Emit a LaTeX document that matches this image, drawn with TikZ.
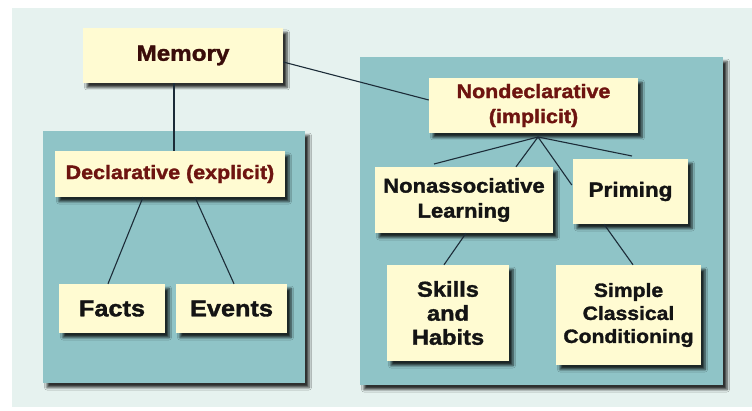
\documentclass[tikz,border=0pt]{standalone}
\usepackage{fontspec}
\newfontfamily\lbl{Liberation Sans}[FakeStretch=1.1, BoldFeatures={FakeBold=1.6}]
\usetikzlibrary{calc,shadows.blur}
\definecolor{bgc}{HTML}{E6F2EF}
\definecolor{panelc}{HTML}{8FC4C7}
\definecolor{boxc}{HTML}{FFFBD2}
\definecolor{memc}{HTML}{3A0C0A}
\definecolor{decc}{HTML}{6E1410}
\definecolor{txtc}{HTML}{141414}
\definecolor{linec}{HTML}{1C2C38}
\tikzset{
  shad/.style={blur shadow={shadow xshift=4pt, shadow yshift=-4.5pt, shadow blur steps=5, shadow blur radius=2.5pt, shadow opacity=80}},
  panel/.style={fill=panelc, draw=none, shad},
  box/.style={fill=boxc, draw=none, shad, inner sep=0pt, align=center, text=txtc, font=\lbl\bfseries},
  conn/.style={draw=linec, line width=1.1pt},
}
\begin{document}
\begin{tikzpicture}[x=1pt,y=-1pt]
\useasboundingbox (0,0) rectangle (752,411);
\fill[white] (0,0) rectangle (752,411);
\fill[bgc] (12,8) rectangle (752,407);
% panels
\path[panel] (43,131) rectangle (305,383);
\path[panel] (360,57) rectangle (723,385);
% boxes
\node[box, minimum width=200pt, minimum height=55pt, text=memc, font=\lbl\bfseries\fontsize{22}{26}\selectfont] (mem) at (183,55.5) {Memory};
\node[box, minimum width=230pt, minimum height=46pt, text=decc, font=\lbl\bfseries\fontsize{19.5}{24}\selectfont] (decl) at (170,174) {Declarative (explicit)};
\node[box, minimum width=106pt, minimum height=49pt, font=\lbl\bfseries\fontsize{23}{26}\selectfont] (facts) at (112,308.5) {Facts};
\node[box, minimum width=111pt, minimum height=49pt, font=\lbl\bfseries\fontsize{23}{26}\selectfont] (events) at (231.5,308.5) {Events};
\node[box, minimum width=209pt, minimum height=55pt, text=decc, font=\lbl\bfseries\fontsize{19.5}{25}\selectfont] (nondecl) at (533.5,105.5) {Nondeclarative\\(implicit)};
\node[box, minimum width=178pt, minimum height=66pt, font=\lbl\bfseries\fontsize{20}{25}\selectfont] (nonassoc) at (464,200) {Nonassociative\\Learning};
\node[box, minimum width=115pt, minimum height=65pt, font=\lbl\bfseries\fontsize{20.5}{25}\selectfont] (priming) at (630.5,191.5) {Priming};
\node[box, minimum width=122pt, minimum height=96pt, font=\lbl\bfseries\fontsize{21.5}{24}\selectfont] (skills) at (448,313) {Skills\\and\\Habits};
\node[box, minimum width=145pt, minimum height=100pt, font=\lbl\bfseries\fontsize{19.2}{23}\selectfont] (simple) at (628.5,315) {Simple\\Classical\\Conditioning};
% connector points
\coordinate (fan) at (538,137);
\coordinate (endl) at (434,164);
\coordinate (endr) at (632,156);
% connectors
\draw[conn] ($(mem.south)+(-9,0)$) -- ($(decl.north)+(4,0)$);
\draw[conn] ($(mem.east)+(0,6.5)$) -- ($(nondecl.west)+(0,-5.5)$);
\draw[conn] ($(decl.south)+(-27,0)$) -- ($(facts.north)+(-4,0)$);
\draw[conn] ($(decl.south)+(25,0)$) -- ($(events.north)+(2.5,0)$);
\draw[conn] (fan) -- (endl);
\draw[conn] (fan) -- ($(nonassoc.north)+(52,0)$);
\draw[conn] (fan) -- ($(priming.west)+(-1,-6.5)$);
\draw[conn] (fan) -- (endr);
\draw[conn] ($(nonassoc.south)+(2,0)$) -- ($(skills.north)+(-4,0)$);
\draw[conn] ($(priming.south)+(-26.5,0)$) -- ($(simple.north)+(4.5,0)$);
\end{tikzpicture}
\end{document}
